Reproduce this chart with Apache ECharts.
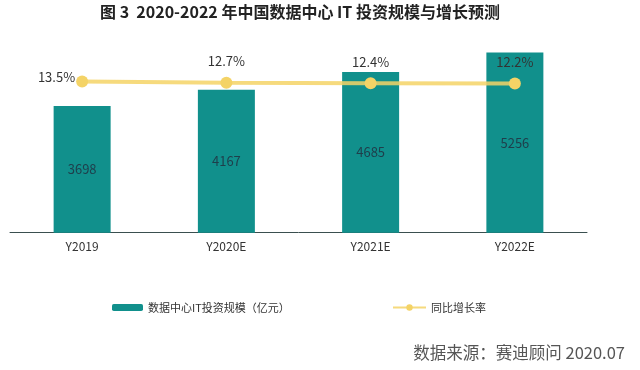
<!DOCTYPE html>
<html>
<head>
<meta charset="utf-8">
<script src="https://cdn.jsdelivr.net/npm/echarts@6/dist/echarts.min.js"></script>
<style>
html,body{margin:0;padding:0;background:#fff;}
#main{width:640px;height:370px;}
</style>
</head>
<body>
<div id="main"></div>
<script>
var categories = ['Y2019', 'Y2020E', 'Y2021E', 'Y2022E'];
var investValues = [3698, 4167, 4685, 5256];
var growthValues = [13.5, 12.7, 12.4, 12.2];
var barName = '数据中心IT投资规模（亿元）';
var lineName = '同比增长率';
var titleText = '图 3  2020-2022 年中国数据中心 IT 投资规模与增长预测';
var sourceText = '数据来源：赛迪顾问 2020.07';

var chart = echarts.init(document.getElementById('main'), null, {renderer: 'canvas'});
var cjk = '"Noto Sans CJK SC", "Noto Sans", sans-serif';

var lineData = growthValues.map(function (v, i) {
  var item = {value: v};
  if (i === 0) {
    item.label = {position: 'left', distance: 1, offset: [0, -4]};
  }
  return item;
});

chart.setOption({
  animation: false,
  backgroundColor: '#ffffff',
  title: {
    text: titleText,
    left: 95,
    top: -1,
    textStyle: {fontFamily: cjk, fontSize: 16, fontWeight: 'bold', color: '#222'}
  },
  graphic: [{
    type: 'text',
    right: 15,
    top: 344,
    style: {text: sourceText, font: '16.5px ' + cjk, fill: '#555'}
  }],
  legend: [{
    left: 107, top: 297,
    itemWidth: 31, itemHeight: 7,
    data: [barName],
    textStyle: {fontFamily: cjk, fontSize: 11, color: '#333'}
  }, {
    left: 387, top: 297,
    itemWidth: 33, itemHeight: 8,
    data: [lineName],
    textStyle: {fontFamily: cjk, fontSize: 11, color: '#333'}
  }],
  grid: {left: 10, right: 53, top: 27, bottom: 137.3, containLabel: false},
  xAxis: {
    type: 'category',
    data: categories,
    axisLine: {lineStyle: {color: '#3a4f4f', width: 1}},
    axisTick: {show: false},
    axisLabel: {fontFamily: cjk, fontSize: 12, color: '#333', margin: 8}
  },
  yAxis: [{
    type: 'value', min: 0, max: 6000, show: false, splitLine: {show: false}
  }, {
    type: 'value', min: -85, max: 49, show: false, splitLine: {show: false}
  }],
  series: [{
    name: barName,
    type: 'bar',
    data: investValues,
    barWidth: 57,
    itemStyle: {color: '#11908c'},
    label: {
      show: true, position: 'inside',
      fontFamily: cjk, fontSize: 13, color: '#1f3e4b'
    }
  }, {
    name: lineName,
    type: 'line',
    yAxisIndex: 1,
    data: lineData,
    symbol: 'circle',
    symbolSize: 12,
    lineStyle: {color: '#f4d366', width: 4, opacity: 0.85},
    itemStyle: {color: '#f4d366'},
    label: {
      show: true, position: 'top', distance: 9,
      fontFamily: cjk, fontSize: 13, color: '#333',
      formatter: function (p) { return p.value.toFixed(1) + '%'; }
    }
  }]
});
</script>
</body>
</html>
